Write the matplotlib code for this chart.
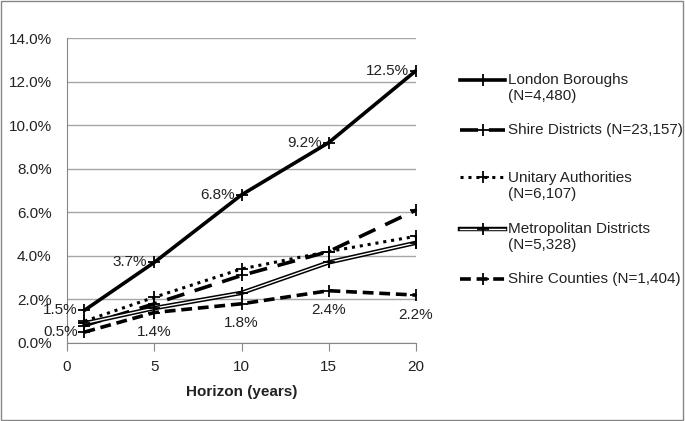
import matplotlib.pyplot as plt
from matplotlib.lines import Line2D
from matplotlib.patches import Rectangle
from matplotlib.ticker import PercentFormatter

plt.rcParams['font.family'] = ['Liberation Sans', 'DejaVu Sans']

horizon = [1, 5, 10, 15, 20]
london = [1.5, 3.7, 6.8, 9.2, 12.5]
shire_districts = [0.8, 1.8, 3.1, 4.2, 6.1]
unitary = [1.0, 2.1, 3.4, 4.2, 4.9]
metropolitan = [0.9, 1.6, 2.3, 3.7, 4.6]
shire_counties = [0.5, 1.4, 1.8, 2.4, 2.2]

labels = ["London Boroughs\n(N=4,480)", "Shire Districts (N=23,157)",
          "Unitary Authorities\n(N=6,107)", "Metropolitan Districts\n(N=5,328)",
          "Shire Counties (N=1,404)"]

fig = plt.figure(figsize=(6.85, 4.21), dpi=100)
ax = fig.add_axes([67/685, 1 - 343/421, (416 - 67)/685, (343 - 38)/421])

mk = dict(marker='+', markersize=9, markeredgewidth=1.3, markeredgecolor='black', color='black')
ax.plot(horizon, london, lw=2.6, **mk)
ax.plot(horizon, shire_districts, lw=2.6, dashes=(5, 3), **mk)
ax.plot(horizon, unitary, lw=2.2, dashes=(1, 1.6), **mk)
ax.plot(horizon, metropolitan, lw=3.2, **mk)
ax.plot(horizon, metropolitan, lw=1.0, color='white')
ax.plot(horizon, metropolitan, lw=0, **mk)
ax.plot(horizon, shire_counties, lw=2.6, dashes=(3, 1.6), **mk)

fs = 11
tc = '#222222'
for x, y in zip(horizon, london):
    ax.annotate(f"{y:.1f}%", (x, y), xytext=(-5, 0), textcoords='offset points',
                ha='right', va='center', fontsize=fs, color=tc)
for i, (x, y) in enumerate(zip(horizon, shire_counties)):
    if i == 0:
        ax.annotate(f"{y:.1f}%", (x, y), xytext=(-5, 0), textcoords='offset points',
                    ha='right', va='center', fontsize=fs, color=tc)
    else:
        ax.annotate(f"{y:.1f}%", (x, y), xytext=(0, -9), textcoords='offset points',
                    ha='center', va='top', fontsize=fs, color=tc)

ax.set_xlim(0, 20)
ax.set_ylim(0, 14)
ax.set_xticks([0, 5, 10, 15, 20])
ax.set_yticks(range(0, 15, 2))
ax.yaxis.set_major_formatter(PercentFormatter(decimals=1))
ax.grid(axis='y', color='#a6a6a6', lw=1)
ax.set_axisbelow(True)
for s in ['top', 'right']:
    ax.spines[s].set_visible(False)
for s in ['left', 'bottom']:
    ax.spines[s].set_color('#868686')
ax.tick_params(axis='x', direction='out', length=6, color='#868686', labelsize=fs,
               pad=6, labelcolor=tc)
ax.tick_params(axis='y', length=0, labelsize=fs, pad=11, labelcolor=tc)
ax.set_xlabel("Horizon (years)", fontsize=fs, fontweight='bold', labelpad=8, color=tc)

# legend drawn by hand to keep the uneven spacing
def px(x, y):
    return x / 685, 1 - y / 421

styles = [dict(lw=2.6), dict(lw=2.6, dashes=(5, 3)), dict(lw=2.2, dashes=(1, 1.6)),
          dict(lw=3.2), dict(lw=2.6, dashes=(3, 1.6))]
rows = [88, 130, 186, 237, 279]
for lab, st, yy, i in zip(labels, styles, rows, range(5)):
    first = yy - 8.5 if "\n" in lab else yy
    x0, y0 = px(460, first)
    x1, _ = px(505, first)
    fig.add_artist(Line2D([x0, x1], [y0, y0], color='black', **st))
    if i == 3:
        fig.add_artist(Line2D([x0, x1], [y0, y0], color='white', lw=1.0))
    fig.add_artist(Line2D([(x0 + x1) / 2], [y0], **mk, lw=0))
    tx, ty = px(508, yy)
    fig.text(tx, ty, lab, fontsize=fs, va='center', ha='left', color=tc, linespacing=1.25)

fig.add_artist(Rectangle((0.002, 0.003), 0.995, 0.994, transform=fig.transFigure,
                         fill=False, ec='#868686', lw=1))

fig.savefig("out.png", dpi=100)
